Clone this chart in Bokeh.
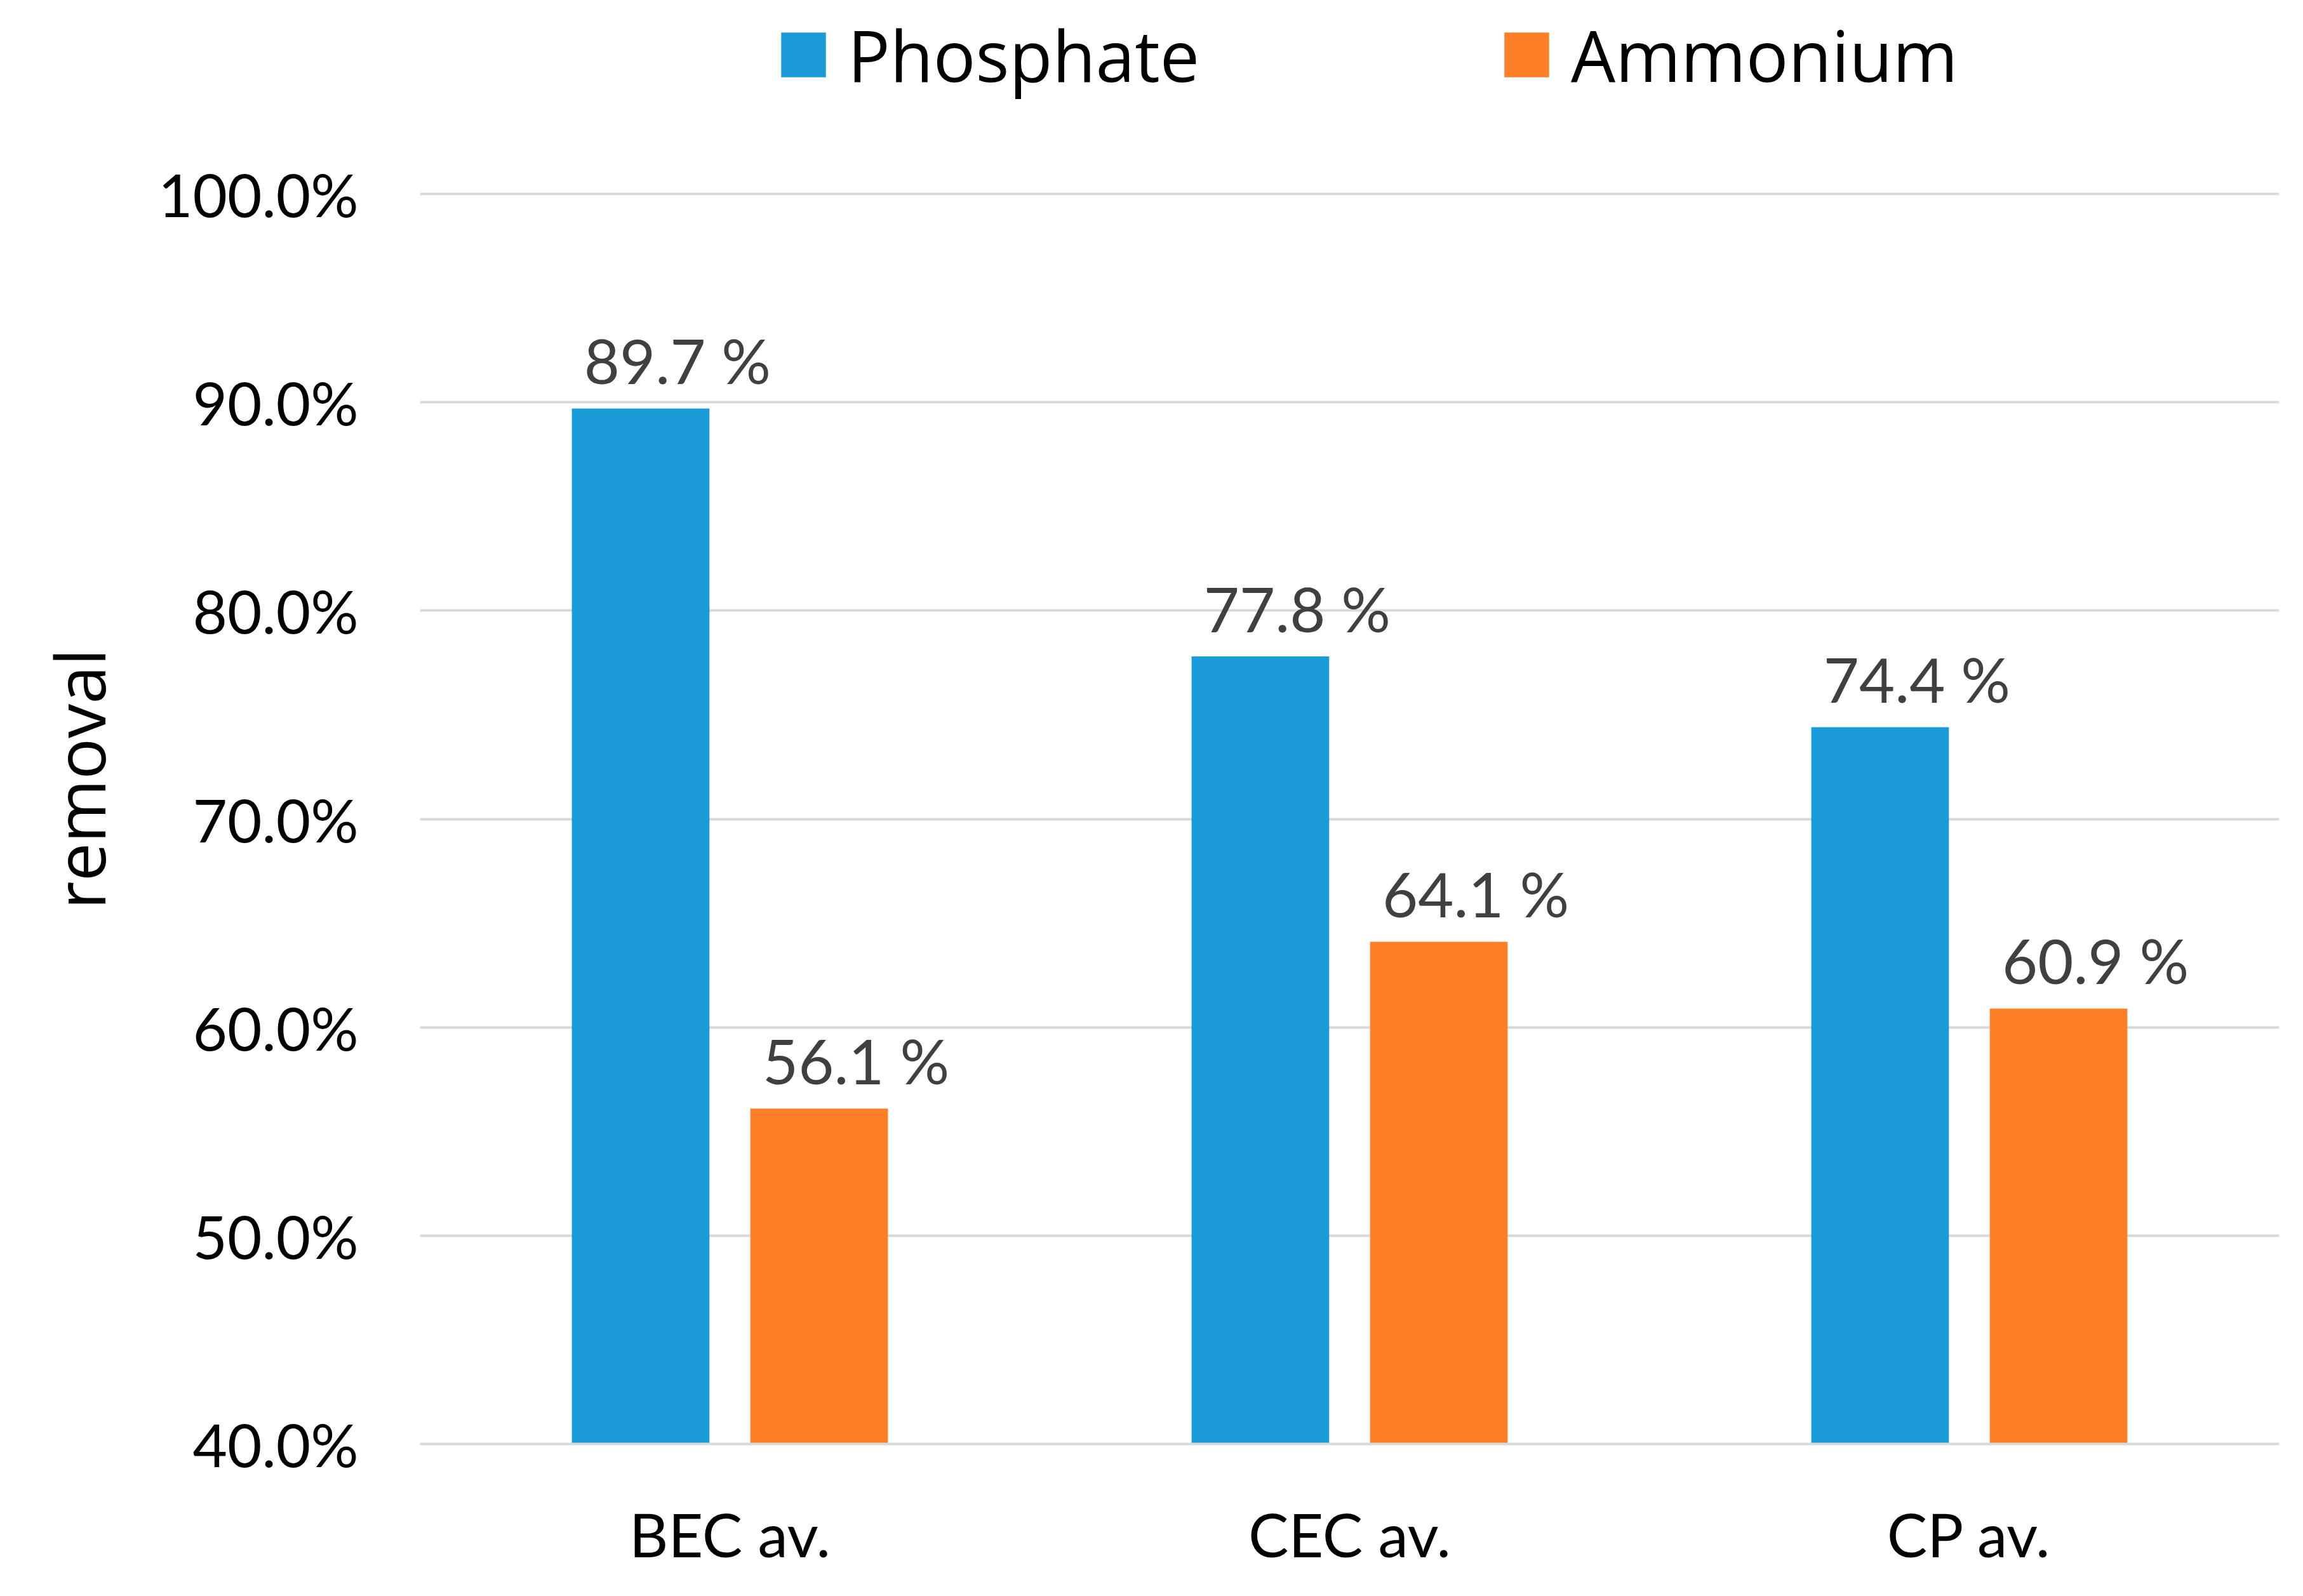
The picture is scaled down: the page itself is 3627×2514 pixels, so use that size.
from bokeh.plotting import figure
from bokeh.models import (ColumnDataSource, FactorRange, Range1d, Legend, LegendItem,
                          PrintfTickFormatter, FixedTicker, Title)
from bokeh.transform import dodge
from bokeh.core.properties import value
from bokeh.embed import file_html
from bokeh.resources import INLINE

categories = ["BEC av.", "CEC av.", "CP av."]
phosphate = [89.7, 77.8, 74.4]
ammonium = [56.1, 64.1, 60.9]
y_ticks = [40, 50, 60, 70, 80, 90, 100]
series_names = ["Phosphate", "Ammonium"]
y_label = "removal"

BLUE = "#1a9bd7"
ORANGE = "#fe7f27"
FONT = "Lato"

src = ColumnDataSource(dict(
    cat=categories,
    pho=phosphate,
    amm=ammonium,
    pho_lbl=[f"{v:.1f} %" for v in phosphate],
    amm_lbl=[f"{v:.1f} %" for v in ammonium],
))

# frame spans the full top (legend lives inside it); 100% gridline at 305px from top
W, H = 3611, 2498
FRAME_BOTTOM = 2274
PX_PER_PCT = (FRAME_BOTTOM - 305) / 60.0
y_top = 100 + 305 / PX_PER_PCT

p = figure(width=W, height=H, x_range=FactorRange(factors=categories, range_padding=0),
           y_range=Range1d(40, y_top), output_backend="svg", toolbar_location=None,
           min_border_left=651, min_border_right=22, min_border_top=0,
           min_border_bottom=H - FRAME_BOTTOM)
p.outline_line_color = None
p.background_fill_color = "white"
p.border_fill_color = "white"

off = 0.144
bw = 0.222
r1 = p.vbar(x=dodge("cat", -off, range=p.x_range), top="pho", bottom=40, width=bw, source=src,
            fill_color=BLUE, line_color=None)
r2 = p.vbar(x=dodge("cat", off, range=p.x_range), top="amm", bottom=40, width=bw, source=src,
            fill_color=ORANGE, line_color=None)

p.text(x=dodge("cat", -off, range=p.x_range), y="pho", text="pho_lbl", source=src,
       text_font=value(FONT), text_font_size="97px", text_color="#404040",
       text_align="center", text_baseline="alphabetic", x_offset=58, y_offset=-76)
p.text(x=dodge("cat", off, range=p.x_range), y="amm", text="amm_lbl", source=src,
       text_font=value(FONT), text_font_size="97px", text_color="#404040",
       text_align="center", text_baseline="alphabetic", x_offset=58, y_offset=-76)

# y axis
p.yaxis.ticker = FixedTicker(ticks=y_ticks)
p.yaxis.formatter = PrintfTickFormatter(format="%.1f%%")
p.yaxis.axis_line_color = None
p.yaxis.major_tick_line_color = None
p.yaxis.minor_tick_line_color = None
p.yaxis.major_label_standoff = 91
p.yaxis.major_label_text_font = FONT
p.yaxis.major_label_text_font_size = "94px"
p.yaxis.major_label_text_color = "black"

# x axis
p.xaxis.axis_line_color = "#d9d9d9"
p.xaxis.axis_line_width = 4
p.xaxis.major_tick_line_color = None
p.xaxis.minor_tick_line_color = None
p.xaxis.major_label_standoff = 78
p.xaxis.major_label_text_font = FONT
p.xaxis.major_label_text_font_size = "95px"
p.xaxis.major_label_text_color = "black"

p.xgrid.grid_line_color = None
p.ygrid.ticker = FixedTicker(ticks=y_ticks)
p.ygrid.grid_line_color = "#d9d9d9"
p.ygrid.grid_line_width = 4

p.add_layout(Title(text=y_label, align="left", offset=842, standoff=96,
                   text_font="Open Sans", text_font_size="108px", text_font_style="normal",
                   text_color="black"), "left")

legend = Legend(items=[LegendItem(label=series_names[0], renderers=[r1]),
                       LegendItem(label=series_names[1], renderers=[r2])],
                orientation="horizontal", location=(560, FRAME_BOTTOM - 162),
                glyph_width=88, glyph_height=88, label_standoff=26, label_width=1025,
                spacing=0, padding=0, margin=0,
                label_text_font="Open Sans", label_text_font_size="111px",
                label_text_color="black",
                border_line_color=None, background_fill_alpha=0)
p.add_layout(legend, "center")

open("out.html", "w").write(file_html(p, INLINE))
